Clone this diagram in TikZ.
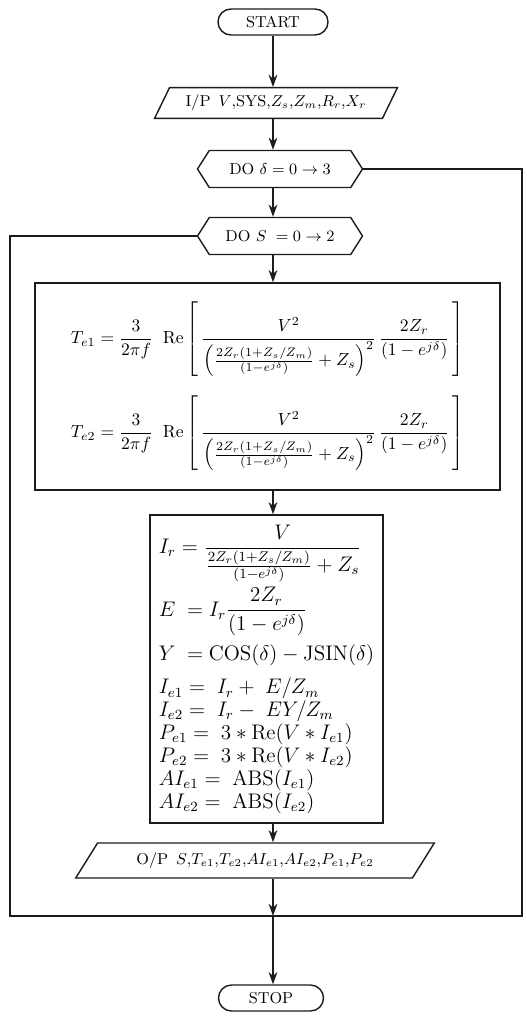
\documentclass[tikz,border=0pt]{standalone}
\usepackage{amsmath,amssymb}
\usepackage{tikz}
\usetikzlibrary{
  arrows.meta, positioning, shapes.geometric, shapes.symbols, calc,
}
\definecolor{ink}{RGB}{28,28,28}
\tikzset{
  termnode/.style={rectangle,rounded corners=0.26cm,draw=ink,thick,minimum width=2.2cm,minimum height=0.52cm,inner sep=1pt,font=\small},
  ionode/.style={trapezium,trapezium left angle=64,trapezium right angle=116,draw=ink,thick,inner xsep=3pt,font=\small},
  loopnode/.style={signal,signal to=east and west,signal pointer angle=115,draw=ink,thick,minimum width=3.3cm,minimum height=0.74cm,font=\small},
  procbox/.style={rectangle,draw=ink,thick,inner sep=4pt},
  flowarrow/.style={-{Stealth[length=7pt,width=5pt]},thick,ink},
  loopline/.style={thick,ink},
}

\begin{document}
\begin{tikzpicture}
  \useasboundingbox (0,0) rectangle (10.54,-20.32);
  % flow column
  \node[termnode] (start) at (5.46,-0.44) {START};
  \node[ionode,minimum width=4.86cm,minimum height=0.6cm] (inp) at (5.52,-2.06)
    {I/P\enspace $V$,SYS,$Z_s$,$Z_m$,$R_r$,$X_r$};
  \node[loopnode] (dod) at (5.6,-3.38) {DO $\delta=0\rightarrow3$};
  \node[loopnode] (dos) at (5.6,-4.72) {DO $S\;=0\rightarrow2$};
  \node[procbox,minimum width=9.3cm,minimum height=4.14cm,align=left] (torq) at (5.35,-7.73)
    {$T_{e1}=\dfrac{3}{2\pi f}\;\;\mathrm{Re}\left[\,\dfrac{V^{2}}{\left(\frac{2Z_r(1+Z_s/Z_m)}{(1-e^{j\delta})}+Z_s\right)^{2}}\,\dfrac{2Z_r}{(1-e^{j\delta})}\,\right]$\\[10pt]
     $T_{e2}=\dfrac{3}{2\pi f}\;\;\mathrm{Re}\left[\,\dfrac{V^{2}}{\left(\frac{2Z_r(1+Z_s/Z_m)}{(1-e^{j\delta})}+Z_s\right)^{2}}\,\dfrac{2Z_r}{(1-e^{j\delta})}\,\right]$};
  \node[procbox,minimum width=4.66cm,minimum height=6.16cm,align=left,
        font={\fontsize{11.6}{11.8}\selectfont}] (curr) at (5.33,-13.38)
    {$I_r=\dfrac{V}{\frac{2Z_r(1+Z_s/Z_m)}{(1-e^{j\delta})}+Z_s}$\\[2pt]
     $E\;=I_r\dfrac{2Z_r}{(1-e^{j\delta})}$\\[4pt]
     $Y\;=\mathrm{COS}(\delta)-\mathrm{JSIN}(\delta)$\\[6pt]
     $I_{e1}=\;I_r+\;E/Z_m$\\
     $I_{e2}=\;I_r-\;EY/Z_m$\\
     $P_{e1}=\;3*\mathrm{Re}(V*I_{e1})$\\
     $P_{e2}=\;3*\mathrm{Re}(V*I_{e2})$\\
     $AI_{e1}=\;\mathrm{ABS}(I_{e1})$\\
     $AI_{e2}=\;\mathrm{ABS}(I_{e2})$};
  \node[ionode,trapezium left angle=58,trapezium right angle=122,minimum width=5.9cm,minimum height=0.7cm] (outp) at (5.1,-17.21)
    {O/P\enspace $S$,$T_{e1}$,$T_{e2}$,$AI_{e1}$,$AI_{e2}$,$P_{e1}$,$P_{e2}$};
  \coordinate (merge) at (5.46,-18.32);
  \coordinate (lft) at (0.2,0);
  \coordinate (rgt) at (10.44,0);
  \node[termnode,minimum width=2.1cm] (stop) at (5.42,-19.96) {STOP};
  % connectors
  \draw[flowarrow] (start) -- (start |- inp.north);
  \draw[flowarrow] (start |- inp.south) -- (start |- dod.north);
  \draw[flowarrow] (start |- dod.south) -- (start |- dos.north);
  \draw[flowarrow] (start |- dos.south) -- (start |- torq.north);
  \draw[flowarrow] (start |- torq.south) -- (start |- curr.north);
  \draw[flowarrow] (start |- curr.south) -- (start |- outp.north);
  \draw[flowarrow] (start |- outp.south) -- (merge);
  \draw[flowarrow] (merge) -- (merge |- stop.north);
  % loop returns
  \draw[loopline] (dod.east) -- (dod.east -| rgt) |- (merge);
  \draw[loopline] (dos.west) -- (dos.west -| lft) |- (merge);
\end{tikzpicture}
\end{document}
